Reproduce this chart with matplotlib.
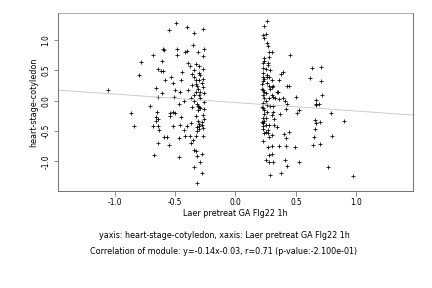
import matplotlib
matplotlib.use("Agg")
import matplotlib.pyplot as plt
import numpy as np

plt.rcParams['font.family'] = ['DejaVu Sans']

# points (x, y)
left_x = [-1.055, -0.862, -0.84, -0.80, -0.78, -0.71, -0.68, -0.675, -0.66, -0.66,
          -0.68, -0.66, -0.64, -0.65, -0.64, -0.64, -0.62, -0.64, -0.64, -0.63,
          -0.61, -0.61, -0.60, -0.60, -0.59, -0.59, -0.57, -0.58, -0.55, -0.55,
          -0.54, -0.53, -0.54, -0.52, -0.52, -0.52, -0.51, -0.50, -0.50, -0.49,
          -0.48, -0.48, -0.47, -0.47, -0.47, -0.46, -0.46, -0.45, -0.45, -0.44,
          -0.43, -0.43, -0.42, -0.42, -0.40, -0.40, -0.40, -0.39, -0.39, -0.38,
          -0.38, -0.37, -0.37, -0.37, -0.36, -0.36, -0.35, -0.34, -0.34, -0.34,
          -0.34, -0.34, -0.33, -0.34, -0.33, -0.33, -0.33, -0.32, -0.32, -0.32,
          -0.31, -0.31, -0.30, -0.30, -0.30, -0.30, -0.29, -0.28, -0.28, -0.27,
          -0.27, -0.27, -0.27, -0.27, -0.27, -0.26, -0.26, -0.26, -0.26,
          -0.33, -0.31, -0.29, -0.28, -0.32, -0.30, -0.34, -0.29, -0.27, -0.31,
          -0.33, -0.30, -0.28, -0.35, -0.29, -0.32, -0.27, -0.30, -0.31, -0.28,
          -0.36, -0.33, -0.29, -0.26, -0.32, -0.30]
left_y = [0.18, -0.20, -0.41, 0.43, 0.64, -0.08, 0.76, -0.90, 0.21, -0.27,
          -0.41, -0.33, -0.41, -0.18, 0.06, 0.52, 0.49, -0.70, -0.30, -0.48,
          0.66, 0.12, 0.49, 0.85, 0.84, -0.60, -0.60, 0.35, -0.73, 1.17,
          -0.20, 0.40, -0.26, -0.42, -0.18, 0.30, 0.06, 0.18, -0.20, 1.29,
          0.85, 0.76, -0.93, -0.62, -0.05, 0.15, -0.40, 0.35, -0.27, 0.47,
          0.00, -0.48, -0.59, 0.80, 1.21, 0.82, -0.42, 0.63, 0.18, -0.59,
          0.57, 0.04, -0.70, -0.36, -0.10, 0.26, 0.92, 1.12, 0.51, 0.40,
          0.00, -0.81, -0.83, -1.09, -0.59, 0.35, 0.15, -1.36, -0.92, -0.50,
          0.80, -0.33, 0.46, -0.10, 0.35, -0.42, -1.02, -1.20, -0.88, 1.19,
          0.74, 0.52, 0.23, -0.24, -0.59, 0.86, 0.12, -0.02, -0.13,
          0.28, 0.20, 0.43, -0.40, -0.44, -0.38, 0.10, 0.05, 0.36, -0.15,
          0.60, -0.47, 0.30, -0.65, -0.12, 0.25, -0.45, 0.58, -0.08, -0.35,
          0.44, -0.25, 0.15, -0.30, -0.05, 0.10]

right_x = [0.26, 0.234, 0.23, 0.25, 0.24, 0.26, 0.27, 0.28, 0.30, 0.28,
           0.45, 0.24, 0.27, 0.23, 0.25, 0.29, 0.39, 0.38, 0.63, 0.705,
           0.62, 0.71, 0.23, 0.28, 0.30, 0.23, 0.26, 0.28, 0.30, 0.31,
           0.36, 0.43, 0.44, 0.34, 0.35, 0.23, 0.25, 0.24, 0.28, 0.31,
           0.36, 0.39, 0.41, 0.50, 0.72, 0.67, 0.67, 0.69, 0.67, 0.23,
           0.26, 0.29, 0.31, 0.43, 0.42, 0.51, 0.53, 0.79, 0.895, 0.66,
           0.70, 0.67, 0.66, 0.80, 0.65, 0.64, 0.70, 0.44, 0.40, 0.42,
           0.23, 0.24, 0.26, 0.30, 0.31, 0.37, 0.32, 0.34, 0.23, 0.25,
           0.24, 0.27, 0.30, 0.28, 0.23, 0.27, 0.30, 0.36, 0.42, 0.49,
           0.28, 0.30, 0.25, 0.28, 0.31, 0.41, 0.43, 0.53, 0.77, 0.97,
           0.29, 0.38, 0.23,
           0.22, 0.23, 0.24, 0.22, 0.23, 0.25, 0.24, 0.22, 0.23, 0.26,
           0.24, 0.23, 0.25, 0.22, 0.24, 0.27, 0.23, 0.25, 0.29, 0.32,
           0.26, 0.33, 0.28, 0.24, 0.30, 0.27]
right_y = [1.31, 1.24, 1.09, 1.10, 1.03, 0.95, 0.90, 0.80, 0.81, 0.73,
           0.76, 0.66, 0.59, 0.54, 0.52, 0.50, 0.48, 0.44, 0.54, 0.56,
           0.38, 0.33, 0.39, 0.40, 0.35, 0.32, 0.30, 0.25, 0.23, 0.25,
           0.35, 0.24, 0.25, 0.15, 0.14, 0.18, 0.12, 0.05, 0.05, 0.06,
           0.03, 0.04, -0.01, 0.07, 0.10, 0.02, -0.05, -0.06, -0.07, -0.03,
           -0.07, -0.09, -0.08, -0.05, -0.13, -0.20, -0.15, -0.20, -0.33, -0.32,
           -0.35, -0.36, -0.46, -0.58, -0.60, -0.73, -0.71, -0.51, -0.55, -0.62,
           -0.29, -0.22, -0.18, -0.23, -0.19, -0.22, -0.40, -0.44, -0.46, -0.51,
           -0.54, -0.54, -0.57, -0.60, -0.67, -0.76, -0.75, -0.74, -0.75, -0.77,
           -0.89, -0.88, -0.98, -1.02, -1.01, -0.98, -1.08, -1.02, -1.09, -1.25,
           -1.23, -1.19, -0.37,
           0.20, 0.10, -0.15, -0.35, -0.42, -0.40, -0.33, 0.28, 0.45, 0.42,
           0.15, 0.62, 0.00, -0.10, 0.36, 0.62, -0.12, -0.28, 0.20, -0.30,
           0.40, 0.05, -0.40, 0.70, 0.10, -0.48]

x = np.array(left_x + right_x)
y = np.array(left_y + right_y)

slope = -0.14
intercept = -0.03
xticks = [-1.0, -0.5, 0.0, 0.5, 1.0]
yticks = [-1.0, -0.5, 0.0, 0.5, 1.0]

fig = plt.figure(figsize=(6, 4), dpi=72)
ax = fig.add_axes([0.134, 0.337, 0.822, 0.618])

ax.scatter(x, y, marker='+', s=24, c='black', linewidths=0.8)
xl = (-1.47, 1.47)
ax.plot(xl, [slope * v + intercept for v in xl], color='#c8c8c8', lw=0.9)
ax.set_xlim(xl)
ax.set_ylim(-1.49, 1.45)

ax.set_xticks(xticks)
ax.set_xticklabels(['%.1f' % t for t in xticks])
ax.set_yticks(yticks)
ax.set_yticklabels(['%.1f' % t for t in yticks], rotation=90, va='center')
ax.tick_params(labelsize=7.5, length=4.5, width=0.6, color='#444444', pad=3)
for s in ax.spines.values():
    s.set_linewidth(0.8)
    s.set_color('#555555')
ax.spines['top'].set_color('#999999')

ax.set_xlabel('Laer pretreat GA Flg22 1h', fontsize=8, labelpad=2)
ax.set_ylabel('heart-stage-cotyledon', fontsize=8, labelpad=3)

cx = 224 / 432
fig.text(cx, 1 - 235 / 288, 'yaxis: heart-stage-cotyledon, xaxis: Laer pretreat GA Flg22 1h',
         ha='center', va='center', fontsize=8)
fig.text(cx, 1 - 252 / 288, 'Correlation of module: y=-0.14x-0.03, r=0.71 (p-value:-2.100e-01)',
         ha='center', va='center', fontsize=8)

fig.savefig('out.png', dpi=72)
